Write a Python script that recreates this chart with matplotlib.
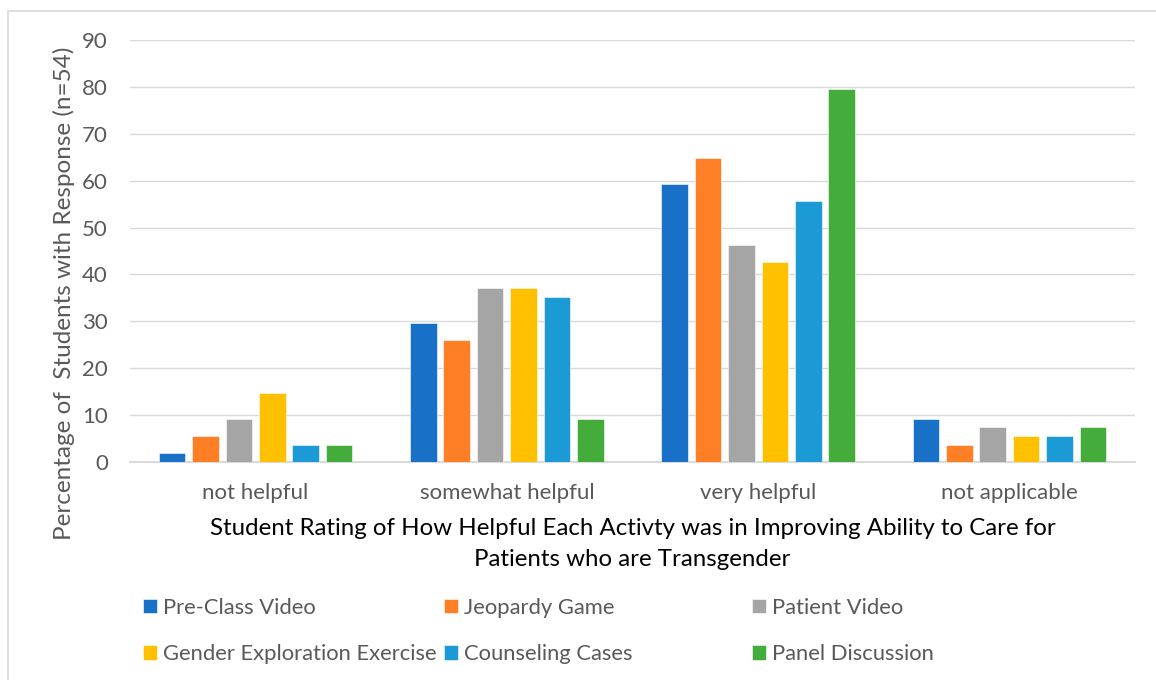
import numpy as np
import matplotlib.pyplot as plt
from matplotlib.patches import Rectangle

# Response percentages (n=54)
categories = ['not helpful', 'somewhat helpful', 'very helpful', 'not applicable']
series_names = ['Pre-Class Video', 'Jeopardy Game', 'Patient Video',
                'Gender Exploration Exercise', 'Counseling Cases', 'Panel Discussion']
pre_class_video = [1.85, 29.63, 59.26, 9.26]
jeopardy_game = [5.56, 25.93, 64.81, 3.70]
patient_video = [9.26, 37.04, 46.30, 7.41]
gender_exploration = [14.81, 37.04, 42.59, 5.56]
counseling_cases = [3.70, 35.19, 55.56, 5.56]
panel_discussion = [3.70, 9.26, 79.63, 7.41]
yticks = [0, 10, 20, 30, 40, 50, 60, 70, 80, 90]

COLORS = ['#1871C7', '#FF7F27', '#A5A5A5', '#FFC000', '#1B9AD6', '#43AC3A']
TEXT_GRAY = '#595959'
GRID = '#D9D9D9'

plt.rcParams['font.family'] = ['Lato', 'DejaVu Sans']

fig = plt.figure(figsize=(11.56, 6.8), dpi=100)
fig.patches.append(Rectangle((8 / 1156, -0.1), 1.2, 1 - 11 / 680 + 0.1,
                             transform=fig.transFigure, fill=False,
                             edgecolor=GRID, linewidth=1.2))
ax = fig.add_axes([130 / 1156, 1 - 462 / 680, 1005 / 1156, 422 / 680])

data = [pre_class_video, jeopardy_game, patient_video,
        gender_exploration, counseling_cases, panel_discussion]
x = np.arange(len(categories))
pitch = 0.133
width = 0.106
handles = []
for i, (name, vals) in enumerate(zip(series_names, data)):
    offset = (i - 2.5) * pitch
    h = ax.bar(x + offset, vals, width, color=COLORS[i], label=name,
               edgecolor='white', linewidth=0.4, zorder=3)
    handles.append(h)

ax.set_xlim(-0.5, 3.5)
ax.set_ylim(0, 90)
ax.set_yticks(yticks)
ax.set_xticks(x)
ax.set_xticklabels(categories)
ax.tick_params(axis='both', length=0, labelsize=16, labelcolor=TEXT_GRAY)
ax.tick_params(axis='y', pad=16)
ax.tick_params(axis='x', pad=15)
ax.grid(axis='y', color=GRID, linewidth=1.0, zorder=0)
for s in ['top', 'right', 'left']:
    ax.spines[s].set_visible(False)
ax.spines['bottom'].set_color(GRID)
ax.spines['bottom'].set_linewidth(1.4)

ax.set_ylabel('Percentage of  Students with Response (n=54)', fontsize=17.5,
              color=TEXT_GRAY)
ax.yaxis.set_label_coords(-0.055, 0.40)
ax.set_xlabel('Student Rating of How Helpful Each Activty was in Improving Ability to Care for\n'
              'Patients who are Transgender', fontsize=17.3, color='black',
              linespacing=1.6, labelpad=11)

# legend: three equal-width columns, two rows
col_x = [143, 444, 752]
for c in range(3):
    hs = [handles[c], handles[c + 3]]
    fig.legend(hs, [series_names[c], series_names[c + 3]],
               loc='upper left', bbox_to_anchor=(col_x[c] / 1156, 1 - 598 / 680),
               frameon=False, fontsize=15.8, labelcolor=TEXT_GRAY,
               handlelength=0.62, handleheight=0.62, handletextpad=0.3,
               labelspacing=1.2, borderaxespad=0, borderpad=0)

fig.savefig('out.png', dpi=100, facecolor='white')
